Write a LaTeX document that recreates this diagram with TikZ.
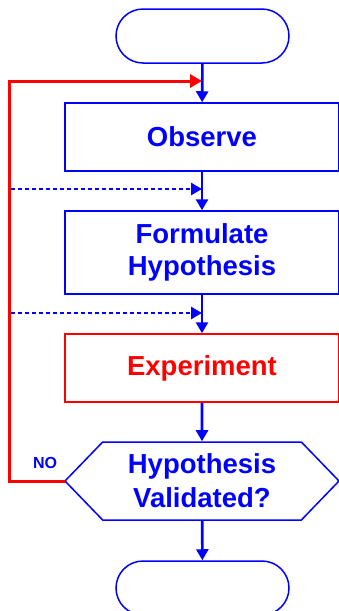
\documentclass[tikz,border=0pt]{standalone}
\usepackage{fontspec}
\setmainfont{Liberation Sans}
\usepackage{xcolor}
\usepackage{tikz}
\usetikzlibrary{arrows.meta,positioning,shapes.symbols}
\definecolor{flowblue}{RGB}{0,0,255}
\definecolor{loopred}{RGB}{255,0,0}

\begin{document}
\begin{tikzpicture}[x=1pt, y=-1pt,
  terminal/.style={draw=flowblue, line width=1.5pt, rounded corners=27pt, minimum width=173pt, minimum height=54pt},
  stepbox/.style={draw=flowblue, line width=1.5pt, minimum width=274pt, align=center, text=flowblue, font=\bfseries\fontsize{27.5}{32}\selectfont},
  decision/.style={signal, signal to=west and east, signal pointer angle=92, draw=flowblue, line width=1.5pt, minimum width=274pt, minimum height=78pt, inner xsep=0pt, align=center, text=flowblue, font=\bfseries\fontsize{27.5}{34}\selectfont},
  flow/.style={-{Triangle[length=11pt, width=12pt]}, flowblue, line width=2.6pt},
  feedback/.style={-{Triangle[length=11pt, width=12pt]}, flowblue, line width=2.6pt, dash pattern=on 4pt off 3pt},
  noloop/.style={-{Triangle[length=12pt, width=13pt]}, loopred, line width=3pt},
  answer/.style={text=flowblue, font=\bfseries\fontsize{16}{18}\selectfont}
]
\useasboundingbox (0,0) rectangle (338,611);

\node[terminal] (start) at (202.5,36) {};
\node[stepbox, minimum height=68pt] (observe) at (202,137) {Observe};
\node[stepbox, minimum height=83pt] (formulate) at (202,252.5) {Formulate\\Hypothesis};
\node[stepbox, minimum height=68pt, draw=loopred, text=loopred] (experiment) at (202,368) {Experiment};
\node[decision] (valid) at (202,481) {Hypothesis\\Validated?};
\node[terminal] (stop) at (202.5,588) {};

\coordinate (joinA) at (202,81);
\coordinate (joinB) at (202,189);
\coordinate (joinC) at (202,313);
\coordinate (backB) at (11,189);
\coordinate (backC) at (11,313);

\draw[flow] (start) -- (observe);
\draw[flow] (observe) -- (formulate);
\draw[flow] (formulate) -- (experiment);
\draw[flow] (experiment) -- (valid);
\draw[flow] (valid) -- (stop);

\draw[feedback] (backB) -- (joinB);
\draw[feedback] (backC) -- (joinC);

\draw[noloop, line cap=rect] (valid.west) -- ++(-54,0) |- (joinA);
\node[answer] (no) at (45,463) {NO};
\end{tikzpicture}
\end{document}
